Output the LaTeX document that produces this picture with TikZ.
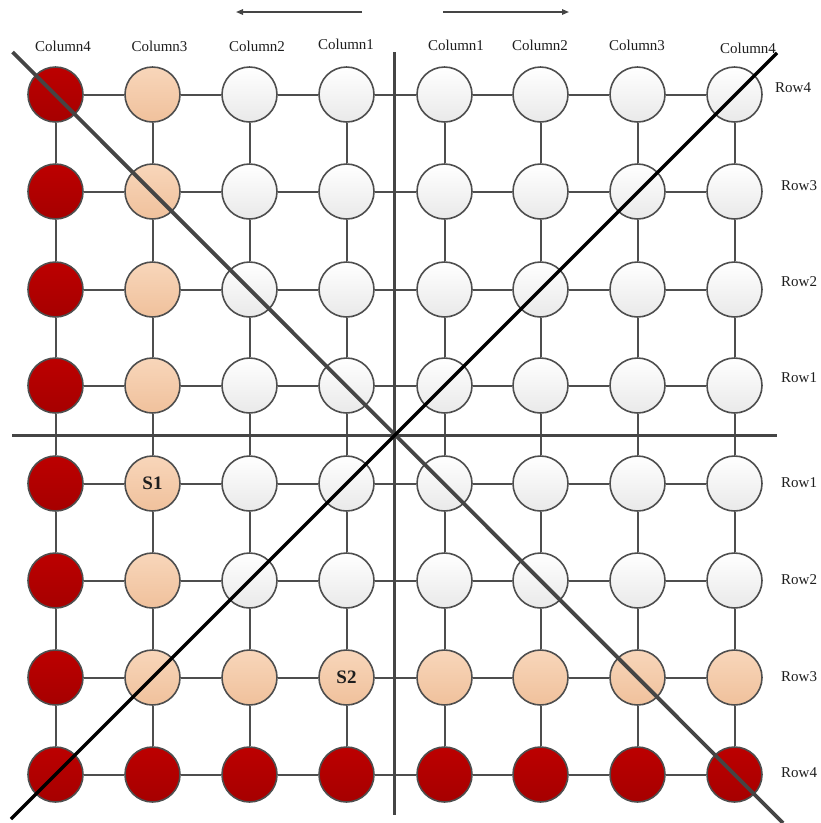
\documentclass[tikz,border=0pt]{standalone}
\usepackage{fontspec}
\setmainfont{Liberation Serif}
\usetikzlibrary{arrows.meta}
\definecolor{gridgray}{HTML}{4E4E4E}
\definecolor{axisgray}{HTML}{454545}
\definecolor{redtop}{HTML}{BC0000}
\definecolor{redbot}{HTML}{A60000}
\definecolor{peachtop}{HTML}{F8D6BA}
\definecolor{peachbot}{HTML}{F0C19C}
\definecolor{whitebot}{HTML}{E9E9E9}
\definecolor{txt}{HTML}{1E1E1E}
\tikzset{
  basenode/.style={circle, minimum size=55pt, inner sep=0pt, draw=gridgray, line width=1.6pt},
  rednode/.style={basenode, top color=redtop, bottom color=redbot},
  peachnode/.style={basenode, top color=peachtop, bottom color=peachbot},
  whitenode/.style={basenode, top color=white, bottom color=whitebot},
  gridline/.style={draw=gridgray, line width=2pt},
  axisline/.style={draw=axisgray, line width=3.6pt},
  diagA/.style={draw=axisgray, line width=3.8pt},
  diagB/.style={draw=black, line width=3.4pt},
  toparrow/.style={draw=axisgray, line width=1.5pt, -{Triangle[length=7pt,width=5.5pt]}},
  lab/.style={font=\fontsize{15}{17}\selectfont, text=txt, inner sep=0pt},
  rowlab/.style={lab, anchor=west},
  slab/.style={font=\fontsize{19}{21}\selectfont\bfseries, text=txt, inner sep=0pt}
}
\begin{document}
\begin{tikzpicture}[x=1pt,y=-1pt]
\useasboundingbox (0,0) rectangle (821,823);
% nodes
\foreach \c/\x in {1/55.5,2/152.5,3/249.5,4/346.5,5/444.5,6/540.5,7/637.5,8/734.5}{
  \foreach \r/\y in {1/94.5,2/191.5,3/289.5,4/385.5,5/483.5,6/580.5,7/677.5,8/774.5}{
    \ifnum\c=1 \def\sty{rednode}\else
      \ifnum\r=8 \def\sty{rednode}\else
        \ifnum\c=2 \def\sty{peachnode}\else
          \ifnum\r=7 \def\sty{peachnode}\else
            \def\sty{whitenode}\fi\fi\fi\fi
    \node[\sty] (n\c\r) at (\x,\y) {};
  }
}
% grid connectors
\foreach \c in {1,...,7}{
  \pgfmathtruncatemacro\cn{\c+1}
  \foreach \r in {1,...,8}{
    \draw[gridline] (n\c\r) -- (n\cn\r);
  }
}
\foreach \r in {1,...,7}{
  \pgfmathtruncatemacro\rn{\r+1}
  \foreach \c in {1,...,8}{
    \draw[gridline] (n\c\r) -- (n\c\rn);
  }
}
% labels in nodes
\node[slab] (s1) at (n25) {S1};
\node[slab] (s2) at (n47) {S2};
% column labels
\node[lab] (lc4) at (63,46) {Column4};
\node[lab] (lc3) at (159.5,46) {Column3};
\node[lab] (lc2) at (257,46) {Column2};
\node[lab] (lc1) at (346,44) {Column1};
\node[lab] (rc1) at (456,45) {Column1};
\node[lab] (rc2) at (540,45) {Column2};
\node[lab] (rc3) at (637,45) {Column3};
\node[lab] (rc4) at (748,48) {Column4};
% row labels
\node[rowlab] (r4a) at (775,88) {Row4};
\node[rowlab] (r3a) at (781,186) {Row3};
\node[rowlab] (r2a) at (781,282) {Row2};
\node[rowlab] (r1a) at (781,378) {Row1};
\node[rowlab] (r1b) at (781,482.5) {Row1};
\node[rowlab] (r2b) at (781,580) {Row2};
\node[rowlab] (r3b) at (781,677) {Row3};
\node[rowlab] (r4b) at (781,773) {Row4};
% top arrows
\coordinate (la1) at (362,12);
\coordinate (la2) at (236,12);
\coordinate (ra1) at (443,12);
\coordinate (ra2) at (569,12);
\draw[toparrow] (la1) -- (la2);
\draw[toparrow] (ra1) -- (ra2);
% axes
\coordinate (vt) at (394.5,52);
\coordinate (vb) at (394.5,815);
\coordinate (hl) at (12,435.5);
\coordinate (hr) at (777,435.5);
\draw[axisline] (vt) -- (vb);
\draw[axisline] (hl) -- (hr);
% diagonals
\coordinate (da1) at (12.5,52);
\coordinate (da2) at (783,823);
\coordinate (db1) at (11,819);
\coordinate (db2) at (777,53);
\draw[diagA] (da1) -- (da2);
\draw[diagB] (db1) -- (db2);
\end{tikzpicture}
\end{document}
